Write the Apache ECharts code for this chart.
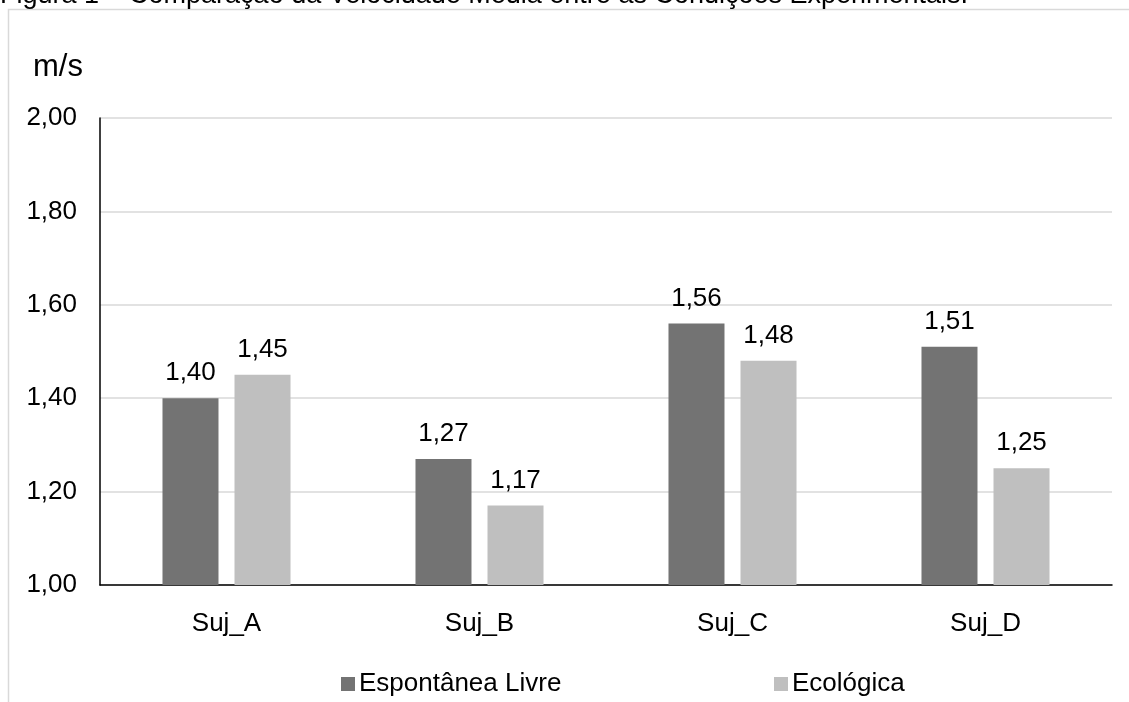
<!DOCTYPE html>
<html>
<head>
<meta charset="utf-8">
<style>
  html, body { margin: 0; padding: 0; background: #ffffff; }
  #chart { width: 1129px; height: 702px; }
</style>
<script src="https://cdn.jsdelivr.net/npm/echarts@6/dist/echarts.min.js"></script>
</head>
<body>
<div id="chart"></div>
<script>
// Mean walking speed (m/s) per subject under the two experimental conditions
const subjects = ['Suj_A', 'Suj_B', 'Suj_C', 'Suj_D'];
const espontaneaLivre = [1.40, 1.27, 1.56, 1.51];
const ecologica = [1.45, 1.17, 1.48, 1.25];
const seriesNames = ['Espontânea Livre', 'Ecológica'];
const titleText = 'Figura 1 – Comparação da Velocidade Média entre as Condições Experimentais.';
const unitLabel = 'm/s';

const FONT = '"Liberation Sans", Arial, sans-serif';
const fmt = v => v.toFixed(2).replace('.', ',');

const chart = echarts.init(document.getElementById('chart'), null, { renderer: 'canvas' });

const labelStyle = {
  show: true,
  position: 'top',
  distance: 12,
  fontFamily: FONT,
  fontSize: 26,
  color: '#000000',
  formatter: p => fmt(p.value)
};

const legendBase = {
  top: 671,
  padding: 0,
  itemWidth: 14,
  itemHeight: 14,
  itemGap: 0,
  icon: 'rect',
  textStyle: { fontFamily: FONT, fontSize: 26, color: '#000000', padding: [0, 0, 0, -1] },
  selectedMode: false
};

chart.setOption({
  animation: false,
  backgroundColor: '#ffffff',
  graphic: [
    {
      type: 'rect',
      shape: { x: 8.5, y: 9.5, width: 1200, height: 800 },
      style: { fill: 'none', stroke: '#d9d9d9', lineWidth: 1.5 },
      silent: true
    },
    {
      type: 'text',
      left: 0,
      top: -18,
      style: {
        text: titleText,
        font: '27px ' + FONT,
        fill: '#000000'
      },
      silent: true
    },
    {
      type: 'text',
      left: 33,
      top: 52,
      style: {
        text: unitLabel,
        font: '31px ' + FONT,
        fill: '#000000'
      },
      silent: true
    }
  ],
  grid: {
    left: 100,
    right: 17,
    top: 118,
    bottom: 117,
    containLabel: false
  },
  legend: [
    Object.assign({}, legendBase, { left: 341, data: [seriesNames[0]] }),
    Object.assign({}, legendBase, { left: 774, data: [seriesNames[1]] })
  ],
  xAxis: {
    type: 'category',
    data: subjects,
    axisLine: { show: true, lineStyle: { color: '#000000', width: 1.5 } },
    axisTick: { show: false },
    axisLabel: { fontFamily: FONT, fontSize: 26, color: '#000000', margin: 26 },
    splitLine: { show: false }
  },
  yAxis: {
    type: 'value',
    min: 1.0,
    max: 2.0,
    interval: 0.2,
    axisLine: { show: true, lineStyle: { color: '#000000', width: 1.5 } },
    axisTick: { show: false },
    axisLabel: { fontFamily: FONT, fontSize: 26, color: '#000000', margin: 23, formatter: v => fmt(v) },
    splitLine: { show: true, lineStyle: { color: '#d9d9d9', width: 1.5 } }
  },
  series: [
    {
      name: seriesNames[0],
      type: 'bar',
      data: espontaneaLivre,
      barWidth: 56,
      barGap: '28.6%',
      itemStyle: { color: '#737373' },
      label: labelStyle
    },
    {
      name: seriesNames[1],
      type: 'bar',
      data: ecologica,
      barWidth: 56,
      barGap: '28.6%',
      itemStyle: { color: '#bfbfbf' },
      label: labelStyle
    }
  ]
});
</script>
</body>
</html>
